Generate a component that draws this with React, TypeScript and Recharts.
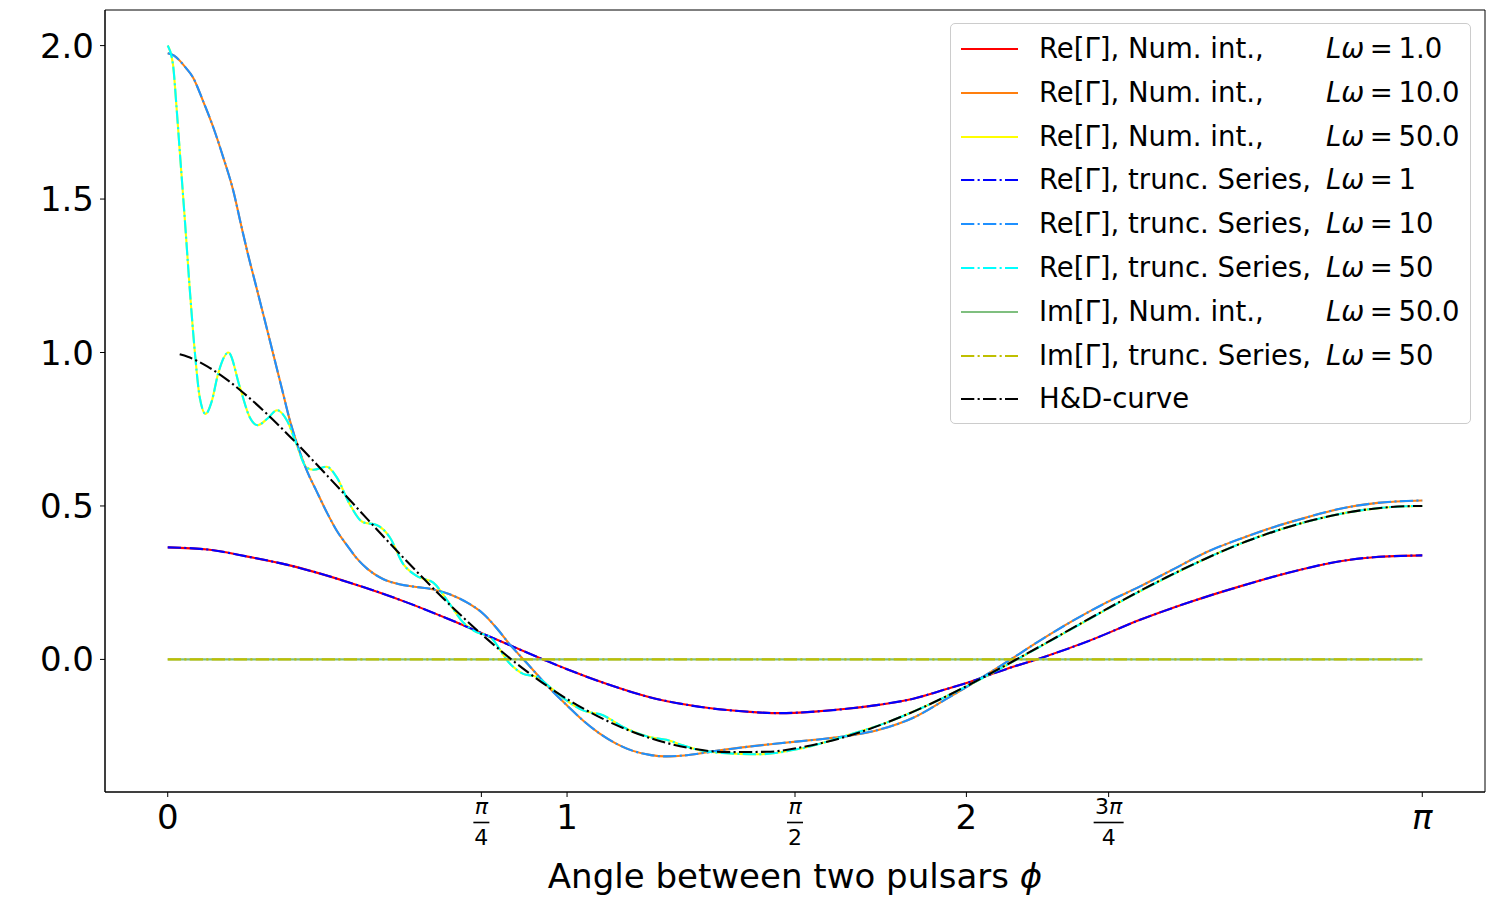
import React from 'react';
import { LineChart, Line, XAxis, YAxis, Legend, ReferenceArea, Label } from 'recharts';

const PI = Math.PI;
const FONT = '"DejaVu Sans", sans-serif';

// [phi, value] pairs
const reLw1: [number, number][] = [
  [0, 0.365], [0.1, 0.358], [0.2, 0.335], [0.3, 0.308], [0.456, 0.25], [0.539, 0.214],
  [0.6, 0.185], [0.706, 0.13], [0.8, 0.078], [0.94, 0.0], [1.0, -0.032], [1.1, -0.08],
  [1.207, -0.123], [1.3, -0.148], [1.458, -0.171], [1.533, -0.175], [1.62, -0.17],
  [1.7, -0.161], [1.78, -0.148], [1.867, -0.128], [1.934, -0.103], [2.0, -0.077],
  [2.059, -0.05], [2.117, -0.024], [2.176, 0.0], [2.31, 0.062], [2.435, 0.129],
  [2.56, 0.187], [2.685, 0.238], [2.811, 0.284], [2.936, 0.32], [3.02, 0.333], [PI, 0.339],
];

const reLw10: [number, number][] = [
  [0, 1.975], [0.015, 1.968], [0.03, 1.951], [0.045, 1.928], [0.063, 1.897], [0.088, 1.821],
  [0.114, 1.734], [0.139, 1.636], [0.164, 1.528], [0.185, 1.408], [0.2, 1.325], [0.222, 1.213],
  [0.243, 1.105], [0.264, 0.996], [0.285, 0.887], [0.306, 0.778], [0.331, 0.675],
  [0.35, 0.61], [0.372, 0.55], [0.4, 0.475], [0.423, 0.42], [0.45, 0.37], [0.473, 0.33],
  [0.5, 0.295], [0.539, 0.262], [0.58, 0.245], [0.623, 0.236], [0.665, 0.228],
  [0.706, 0.212], [0.75, 0.185], [0.79, 0.149], [0.825, 0.1], [0.857, 0.048],
  [0.898, -0.01], [0.957, -0.095], [1.0, -0.15], [1.04, -0.199], [1.08, -0.24],
  [1.124, -0.275], [1.165, -0.298], [1.207, -0.311], [1.249, -0.316], [1.3, -0.312],
  [1.374, -0.298], [1.45, -0.285], [1.533, -0.273], [1.62, -0.262], [1.7, -0.25],
  [1.784, -0.228], [1.867, -0.19], [1.951, -0.128], [2.034, -0.063], [2.1, -0.009],
  [2.18, 0.058], [2.268, 0.127], [2.35, 0.185], [2.435, 0.238], [2.52, 0.295],
  [2.602, 0.35], [2.69, 0.395], [2.769, 0.431], [2.85, 0.462], [2.936, 0.491],
  [3.03, 0.51], [PI, 0.518],
];

const reLw50: [number, number][] = [
  [0, 2.0], [0.013, 1.94], [0.022, 1.8], [0.03, 1.658], [0.043, 1.43], [0.055, 1.21],
  [0.068, 1.0], [0.08, 0.855], [0.095, 0.8], [0.11, 0.84], [0.126, 0.93], [0.152, 1.0],
  [0.18, 0.89], [0.205, 0.79], [0.225, 0.763], [0.25, 0.785], [0.274, 0.812], [0.3, 0.775],
  [0.322, 0.703], [0.347, 0.626], [0.365, 0.618], [0.398, 0.628], [0.423, 0.594],
  [0.456, 0.505], [0.489, 0.447], [0.523, 0.438], [0.556, 0.398], [0.589, 0.312],
  [0.623, 0.272], [0.665, 0.25], [0.706, 0.181], [0.74, 0.12], [0.773, 0.089],
  [0.807, 0.073], [0.857, -0.014], [0.89, -0.047], [0.924, -0.057], [0.957, -0.09],
  [0.999, -0.134], [1.04, -0.166], [1.09, -0.182], [1.14, -0.22], [1.207, -0.253],
  [1.249, -0.262], [1.29, -0.28], [1.333, -0.296], [1.416, -0.307], [1.483, -0.309],
  [1.583, -0.291], [1.708, -0.245], [1.8, -0.206], [1.9, -0.151], [2.0, -0.088],
  [2.1, -0.019], [2.2, 0.053], [2.3, 0.126], [2.4, 0.198], [2.5, 0.266], [2.6, 0.329],
  [2.7, 0.384], [2.8, 0.429], [2.9, 0.464], [3.0, 0.488], [3.1, 0.499], [PI, 0.5],
];

const imLw50: [number, number][] = [
  [0, 0.0], [0.5, 0.0], [1.0, 0.0], [1.5, 0.0], [2.0, 0.0], [2.5, 0.0], [3.0, 0.0], [PI, 0.0],
];

const hdCurve: [number, number][] = [
  [0.03, 0.994], [0.05, 0.986], [0.1, 0.954], [0.15, 0.91], [0.2, 0.857], [0.25, 0.798],
  [0.3, 0.734], [0.4, 0.598], [0.5, 0.457], [0.6, 0.318], [0.7, 0.186], [0.8, 0.066],
  [0.9, -0.04], [1.0, -0.129], [1.1, -0.2], [1.2, -0.253], [1.3, -0.287], [1.4, -0.302],
  [1.5, -0.301], [1.6, -0.283], [1.7, -0.251], [1.8, -0.206], [1.9, -0.151],
  [2.0, -0.087], [2.1, -0.018], [2.2, 0.054], [2.3, 0.127], [2.4, 0.199], [2.5, 0.267],
  [2.6, 0.329], [2.7, 0.384], [2.8, 0.429], [2.9, 0.464], [3.0, 0.488], [3.1, 0.499], [PI, 0.5],
];

const xTickValues = [0, PI / 4, 1, PI / 2, 2, (3 * PI) / 4, PI];
const xTickLabels = ['0', 'π/4', '1', 'π/2', '2', '3π/4', 'π'];
const yTickValues = [0, 0.5, 1, 1.5, 2];
const xDomain: [number, number] = [-0.05 * PI, 1.05 * PI];
const yDomain: [number, number] = [-0.432, 2.116];

const legendTexts = [
  'Re[Γ], Num. int.,', 'Re[Γ], Num. int.,', 'Re[Γ], Num. int.,',
  'Re[Γ], trunc. Series,', 'Re[Γ], trunc. Series,', 'Re[Γ], trunc. Series,',
  'Im[Γ], Num. int.,', 'Im[Γ], trunc. Series,', 'H&D-curve',
];
const legendLw = ['1.0', '10.0', '50.0', '1', '10', '50', '50.0', '50', ''];

const DASHDOT = '13.3 3.3 2.1 3.3';
const series = [
  { id: 'num1', data: reLw1, color: '#ff0000', dash: undefined },
  { id: 'num10', data: reLw10, color: '#ff7f0e', dash: undefined },
  { id: 'num50', data: reLw50, color: '#ffff00', dash: undefined },
  { id: 'ser1', data: reLw1, color: '#0000ff', dash: DASHDOT },
  { id: 'ser10', data: reLw10, color: '#1e90ff', dash: DASHDOT },
  { id: 'ser50', data: reLw50, color: '#00ffff', dash: DASHDOT },
  { id: 'imNum50', data: imLw50, color: '#7fbf7f', dash: undefined },
  { id: 'imSer50', data: imLw50, color: '#bfbf00', dash: DASHDOT },
  { id: 'hd', data: hdCurve, color: '#000000', dash: DASHDOT },
];

const toPoints = (pairs: [number, number][]) => pairs.map(([phi, v]) => ({ phi, v }));

// italic for math symbols, upright for the rest
function mathSpans(text: string) {
  return text.split('').map((ch, i) =>
    'πLωϕ'.includes(ch) ? (
      <tspan key={i} fontStyle="italic">{ch}</tspan>
    ) : (
      <tspan key={i}>{ch}</tspan>
    ),
  );
}

function PhiTick(props: any) {
  const { x, y, payload } = props;
  const idx = xTickValues.findIndex((t) => Math.abs(t - payload.value) < 1e-6);
  const label = xTickLabels[idx] ?? '';
  if (label.includes('/')) {
    const [num, den] = label.split('/');
    const barWidth = num.length > 1 ? 30 : 16;
    return (
      <g>
        <text x={x} y={y + 15} textAnchor="middle" fontSize={22} fill="#000">{mathSpans(num)}</text>
        <line x1={x - barWidth / 2} x2={x + barWidth / 2} y1={y + 23.5} y2={y + 23.5} stroke="#000" strokeWidth={1.6} />
        <text x={x} y={y + 46} textAnchor="middle" fontSize={22} fill="#000">{den}</text>
      </g>
    );
  }
  return (
    <text x={x} y={y + 30} textAnchor="middle" fontSize={34} fill="#000">{mathSpans(label)}</text>
  );
}

function AxisTitle(props: any) {
  const vb = props.viewBox || { x: 105, y: 792, width: 1380 };
  return (
    <text x={vb.x + vb.width / 2} y={vb.y + 96} textAnchor="middle" fontSize={34} fill="#000">
      {mathSpans('Angle between two pulsars ϕ')}
    </text>
  );
}

function FigureLegend() {
  return (
    <div
      style={{
        boxSizing: 'border-box', width: 521, height: 401, position: 'relative',
        border: '1px solid #cccccc', borderRadius: 5, background: 'rgba(255,255,255,0.8)',
        fontFamily: FONT, fontSize: 27.5, color: '#000',
      }}
    >
      {legendTexts.map((text, i) => {
        const s = series[i];
        return (
          <div key={i} style={{ position: 'absolute', left: 0, top: 4 + i * 43.8, width: '100%', height: 40 }}>
            <svg style={{ position: 'absolute', left: 10, top: 18 }} width={58} height={6}>
              <line x1={0} x2={57} y1={3} y2={3} stroke={s.color} strokeWidth={2.1} strokeDasharray={s.dash} />
            </svg>
            <span style={{ position: 'absolute', left: 88, top: 0, lineHeight: '40px', whiteSpace: 'pre' }}>{text}</span>
            {legendLw[i] && (
              <span style={{ position: 'absolute', left: 375, top: 0, lineHeight: '40px', whiteSpace: 'pre' }}>
                <i>Lω</i>{'\u2009=\u2009'}{legendLw[i]}
              </span>
            )}
          </div>
        );
      })}
    </div>
  );
}

export default function App() {
  return (
    <div style={{ position: 'absolute', left: 0, top: 0, width: 1500, height: 900, overflow: 'hidden', background: '#fff', fontFamily: FONT }}>
      <LineChart width={1500} height={900} margin={{ top: 10, right: 15, bottom: 0, left: 5 }}>
        <XAxis
          dataKey="phi"
          type="number"
          domain={xDomain}
          allowDataOverflow
          ticks={xTickValues}
          interval={0}
          tick={PhiTick}
          tickSize={5}
          tickMargin={2}
          height={108}
          axisLine={{ stroke: '#000' }}
          tickLine={{ stroke: '#000' }}
        >
          <Label content={AxisTitle} />
        </XAxis>
        <YAxis
          type="number"
          domain={yDomain}
          allowDataOverflow
          ticks={yTickValues}
          interval={0}
          width={100}
          tickSize={5}
          tickMargin={6}
          tickFormatter={(v: number) => v.toFixed(1)}
          tick={{ fontSize: 34, fill: '#000' }}
          axisLine={{ stroke: '#000' }}
          tickLine={{ stroke: '#000' }}
        />
        {series.map((s) => (
          <Line
            key={s.id}
            data={toPoints(s.data)}
            dataKey="v"
            type="monotone"
            stroke={s.color}
            strokeWidth={2.1}
            strokeDasharray={s.dash}
            dot={false}
            activeDot={false}
            isAnimationActive={false}
          />
        ))}
        <ReferenceArea
          x1={xDomain[0]}
          x2={xDomain[1]}
          y1={yDomain[0]}
          y2={yDomain[1]}
          fill="none"
          stroke="#000"
          strokeWidth={1}
          fillOpacity={0}
          ifOverflow="visible"
        />
        <Legend
          content={() => <FigureLegend />}
          layout="vertical"
          align="center"
          verticalAlign="middle"
          wrapperStyle={{ left: 950, top: 23, width: 521, height: 401 }}
        />
      </LineChart>
    </div>
  );
}
